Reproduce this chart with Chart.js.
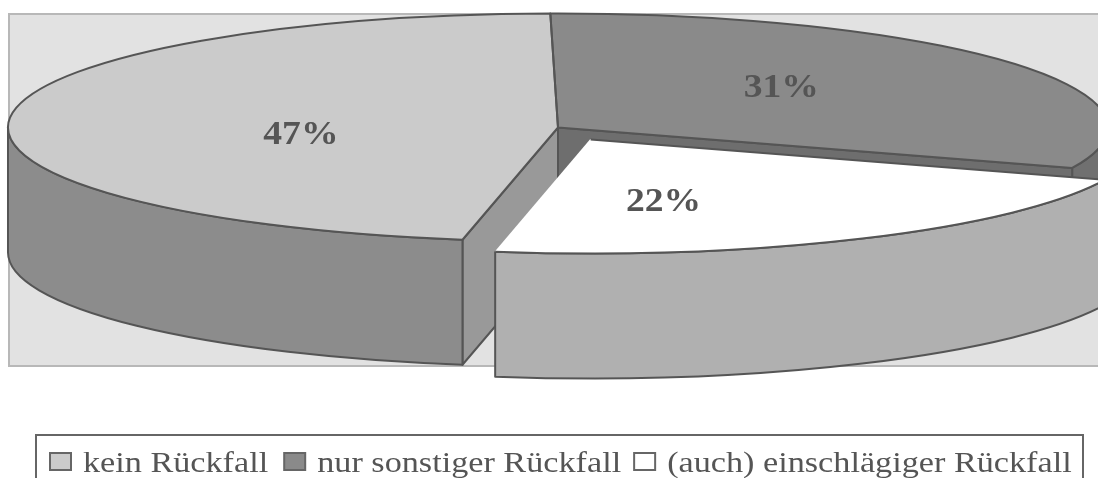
<!DOCTYPE html>
<html><head><meta charset="utf-8">
<style>html,body{margin:0;padding:0;background:#fff;overflow:hidden}canvas{display:block}</style>
<script src="https://cdn.jsdelivr.net/npm/chart.js@4/dist/chart.umd.min.js"></script>
</head><body>
<canvas id="c" width="1098" height="478"></canvas>
<script>
const categories = ['kein Rückfall', 'nur sonstiger Rückfall', '(auch) einschlägiger Rückfall'];
const shares = [47, 31, 22];
const topColors = ['#cbcbcb', '#8a8a8a', '#ffffff'];
const rimColors = ['#8c8c8c', '#707070', '#b0b0b0'];
const cutColors = ['#999999', '#6e6e6e', '#b0b0b0'];
const explode = [0, 0, 260];
const labelShift = [[17, 13], [-2, -6], [-63, 13]];
const legendGaps = [16, 13, 0];

const TILT = 114 / 550, DEPTH = 125, STRETCH = 1.14;
const LINE = '#555555', TEXT = '#555555';

function arcGeom(arc) {
  const off = (arc.options.offset || 0) / 4;
  const fix = 1 - Math.sin(Math.min(Math.PI, arc.circumference));
  const mid = (arc.startAngle + arc.endAngle) / 2;
  const L = off + off * fix;
  const cx = arc.x + Math.cos(mid) * L, cy = arc.y + Math.sin(mid) * L * TILT;
  return {cx, cy, r: arc.outerRadius, a0: arc.startAngle, a1: arc.endAngle, mid};
}
const pt = (g, a, dy = 0) => [g.cx + Math.cos(a) * g.r, g.cy + Math.sin(a) * g.r * TILT + dy];
function ell(ctx, g, a0, a1, dy, ccw) {
  ctx.ellipse(g.cx, g.cy + dy, g.r, g.r * TILT, 0, a0, a1, !!ccw);
}
function rim(ctx, g, color, a0, a1) {
  if (a1 <= a0) return;
  ctx.beginPath();
  ell(ctx, g, a0, a1, 0);
  ell(ctx, g, a1, a0, DEPTH, true);
  ctx.closePath();
  ctx.fillStyle = color; ctx.fill(); ctx.stroke();
}
function cut(ctx, g, a, color) {
  const e = pt(g, a), eb = pt(g, a, DEPTH);
  ctx.beginPath();
  ctx.moveTo(g.cx, g.cy); ctx.lineTo(e[0], e[1]); ctx.lineTo(eb[0], eb[1]); ctx.lineTo(g.cx, g.cy + DEPTH);
  ctx.closePath();
  ctx.fillStyle = color; ctx.fill(); ctx.stroke();
}

const pie3d = {
  id: 'pie3d',
  beforeDraw(chart) {
    const ctx = chart.ctx;
    ctx.save();
    ctx.fillStyle = '#e2e2e2';
    ctx.fillRect(9, 14, 1100, 352);
    ctx.strokeStyle = '#b8b8b8'; ctx.lineWidth = 2;
    ctx.strokeRect(9, 14, 1100, 352);
    ctx.restore();
  },
  beforeDatasetsDraw(chart) {
    const ctx = chart.ctx, arcs = chart.getDatasetMeta(0).data, TAU = Math.PI * 2;
    const g = arcs.map(arcGeom);
    ctx.save();
    ctx.strokeStyle = LINE; ctx.lineWidth = 2; ctx.lineJoin = 'round';
    rim(ctx, g[1], rimColors[1], TAU, g[1].a1);
    cut(ctx, g[1], g[1].a1, cutColors[1]);
    cut(ctx, g[0], g[0].a0, cutColors[0]);
    rim(ctx, g[0], rimColors[0], g[0].a0, Math.PI);
    rim(ctx, g[2], rimColors[2], g[2].a0, g[2].a1);
    ctx.restore();
    const c = g[0];
    ctx.save();
    ctx.translate(c.cx, c.cy); ctx.scale(1, TILT); ctx.translate(-c.cx, -c.cy);
  },
  afterDatasetsDraw(chart) {
    const ctx = chart.ctx, arcs = chart.getDatasetMeta(0).data;
    ctx.restore();
    const g = arcs.map(arcGeom);
    ctx.save();
    ctx.strokeStyle = LINE; ctx.lineWidth = 2; ctx.lineJoin = 'round';
    g.forEach((s, i) => {
      const start = pt(s, s.a0), end = pt(s, s.a1);
      ctx.beginPath();
      if (i === 2) {
        ctx.moveTo(end[0], end[1]);
        ell(ctx, s, s.a1, s.a0, 0, true);
        ctx.lineTo(s.cx, s.cy);
      } else {
        ctx.moveTo(s.cx, s.cy);
        ctx.lineTo(start[0], start[1]);
        ell(ctx, s, s.a0, s.a1, 0);
        ctx.closePath();
      }
      ctx.stroke();
    });
    ctx.fillStyle = TEXT;
    ctx.font = 'bold 33px "Liberation Serif"';
    ctx.textAlign = 'center'; ctx.textBaseline = 'middle';
    g.forEach((s, i) => {
      const x = s.cx + Math.cos(s.mid) * s.r / 2 + labelShift[i][0];
      const y = s.cy + Math.sin(s.mid) * s.r / 2 * TILT + labelShift[i][1];
      ctx.save(); ctx.translate(x, y); ctx.scale(STRETCH, 1);
      ctx.fillText(shares[i] + '%', 0, 0);
      ctx.restore();
    });
    ctx.restore();
  },
  afterDraw(chart) {
    const ctx = chart.ctx;
    ctx.save();
    ctx.strokeStyle = '#666666'; ctx.lineWidth = 2;
    ctx.strokeRect(36, 435, 1047, 60);
    ctx.font = '30px "Liberation Serif"';
    ctx.textAlign = 'left'; ctx.textBaseline = 'alphabetic';
    let x = 50;
    chart.data.labels.forEach((lab, i) => {
      ctx.fillStyle = chart.data.datasets[0].backgroundColor[i];
      ctx.fillRect(x, 453, 21, 17);
      ctx.strokeRect(x, 453, 21, 17);
      x += 33;
      ctx.fillStyle = TEXT;
      ctx.save(); ctx.translate(x, 472); ctx.scale(STRETCH, 1);
      ctx.fillText(lab, 0, 0);
      ctx.restore();
      x += ctx.measureText(lab).width * STRETCH + legendGaps[i];
    });
    ctx.restore();
  }
};

new Chart(document.getElementById('c'), {
  type: 'pie',
  data: {
    labels: categories,
    datasets: [{
      data: shares,
      backgroundColor: topColors,
      borderWidth: 0,
      offset: explode,
      clip: false
    }]
  },
  options: {
    responsive: false,
    animation: false,
    rotation: 190,
    radius: 550,
    cutout: '0%',
    layout: {padding: {left: 18, top: 0, right: 0, bottom: 223}},
    plugins: {legend: {display: false}, tooltip: {enabled: false}}
  },
  plugins: [pie3d]
});
</script>
</body></html>
